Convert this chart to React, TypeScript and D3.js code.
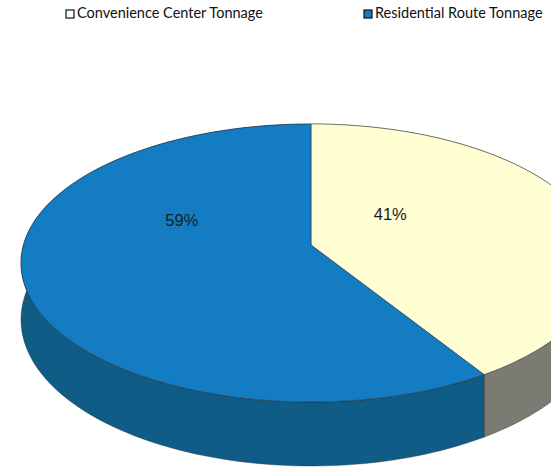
import React from 'react';
import * as d3 from 'd3';

// slices, clockwise from 12 o'clock
const categories = ['Convenience Center Tonnage', 'Residential Route Tonnage'];
const shares = [41, 59];
const percentLabels = ['41%', '59%'];

const topColors = ['#ffffd3', '#137cc2'];
const sideColors = ['#7b7b74', '#0f5d86'];
const legendFill = ['#ffffff', '#1a7cc0'];

// where the percent labels sit (fraction of radius, lift above centre)
const labelRadius = [0.29, 0.46];
const labelLift = [25, 19];

const W = 551;
const H = 468;

// tilted disc with a bit of perspective
const cx = 311;
const cy = 245;
const A = 287.6; // horizontal radius
const B = 136.7; // vertical radius
const P = 0.1295; // perspective strength
const D = 55.7; // thickness

const proj = (a: number, f = 1, drop = 0): [number, number] => {
    const u = Math.sin(a);
    const v = -Math.cos(a);
    const s = 1 / (1 - P * v * f);
    return [cx + A * u * f * s, cy + B * v * f * s + D * s * drop];
};

const arcPoints = (a0: number, a1: number, drop: number) =>
    d3.range(0, 121).map(i => proj(a0 + ((a1 - a0) * i) / 120, 1, drop));

const App = () => {
    const pie = d3.pie<number>().sort(null).startAngle(0).endAngle(2 * Math.PI);
    const arcs = pie(shares);
    const line = d3.line();

    return (
        <svg width={W} height={H} style={{ position: 'absolute', left: 0, top: 0, background: '#fff' }}>
            {/* legend */}
            {categories.map((c, i) => {
                const x0 = i === 0 ? 66 : 364;
                return (
                    <g key={c}>
                        <rect x={x0} y={10} width={8} height={8} fill={legendFill[i]} stroke="#111" strokeWidth={1.2} />
                        <text x={x0 + 11} y={18} fontFamily="Lato" fontSize={14.5} fill="#111">{c}</text>
                    </g>
                );
            })}

            {/* side walls */}
            {arcs.map((d, i) => {
                const top = arcPoints(d.startAngle, d.endAngle, 0);
                const bottom = arcPoints(d.startAngle, d.endAngle, 1).reverse();
                return (
                    <path key={'s' + i} d={line([...top, ...bottom])! + 'Z'} fill={sideColors[i]}
                        stroke="#222" strokeWidth={0.6} strokeOpacity={0.6} />
                );
            })}

            {/* top faces */}
            {arcs.map((d, i) => {
                const pts = [[cx, cy] as [number, number], ...arcPoints(d.startAngle, d.endAngle, 0)];
                return (
                    <path key={'t' + i} d={line(pts)! + 'Z'} fill={topColors[i]}
                        stroke="#222" strokeWidth={0.7} strokeOpacity={0.7} />
                );
            })}

            {/* percent labels */}
            {arcs.map((d, i) => {
                const mid = (d.startAngle + d.endAngle) / 2;
                const [lx] = proj(mid, labelRadius[i]);
                return (
                    <text key={'l' + i} x={lx} y={cy - labelLift[i]} textAnchor="middle"
                        fontFamily="Liberation Sans, Arial" fontSize={16.5} fill="#1b1b1b">
                        {percentLabels[i]}
                    </text>
                );
            })}
        </svg>
    );
};

export default App;
